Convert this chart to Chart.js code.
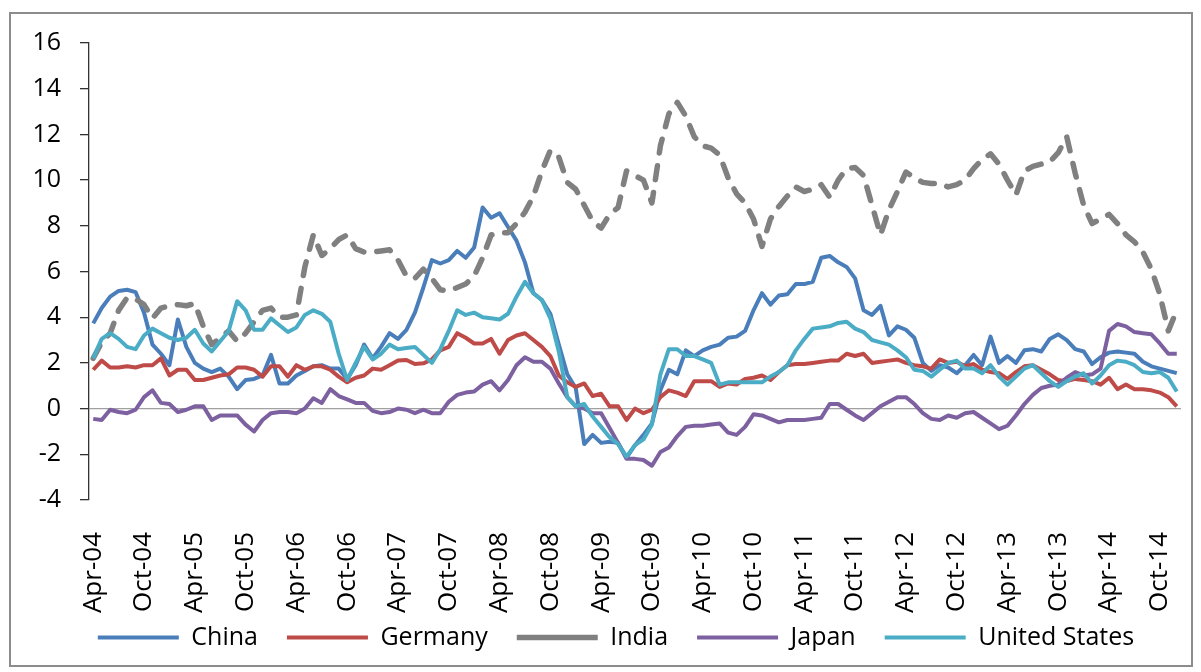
<!DOCTYPE html>
<html><head><meta charset="utf-8">
<script src="https://cdn.jsdelivr.net/npm/chart.js@4.4.1/dist/chart.umd.min.js"></script>
<style>
html,body{margin:0;padding:0;background:#fff;}
#wrap{position:relative;width:1201px;height:672px;overflow:hidden;}
#frame{position:absolute;left:9px;top:12px;width:1184px;height:655px;border:2px solid #8c8c8c;box-sizing:border-box;}
canvas{position:absolute;left:0;top:0;}
</style></head><body>
<div id="wrap"><div id="frame"></div><canvas id="c" width="1201" height="672"></canvas></div>
<script>
// Categories: monthly, Apr-04 .. Dec-14
const monthNames = ['Jan','Feb','Mar','Apr','May','Jun','Jul','Aug','Sep','Oct','Nov','Dec'];
const years = ['04','05','06','07','08','09','10','11','12','13','14'];
const months = [];
years.forEach((y, yi) => monthNames.forEach((m, mi) => { if (!(yi === 0 && mi < 3)) months.push(m + '-' + y); }));

const tickLabels = ['Apr-04','Oct-04','Apr-05','Oct-05','Apr-06','Oct-06','Apr-07','Oct-07','Apr-08','Oct-08','Apr-09','Oct-09','Apr-10','Oct-10','Apr-11','Oct-11','Apr-12','Oct-12','Apr-13','Oct-13','Apr-14','Oct-14'];
const yTicks = [-4,-2,0,2,4,6,8,10,12,14,16];

const china = [3.73,4.4,4.9,5.15,5.2,5.1,4.2,2.8,2.4,1.9,3.9,2.7,2.0,1.75,1.6,1.75,1.4,0.85,1.25,1.3,1.45,2.35,1.1,1.1,1.45,1.65,1.85,1.9,1.75,1.75,1.3,1.9,2.8,2.2,2.7,3.3,3.05,3.45,4.2,5.3,6.5,6.35,6.5,6.9,6.6,7.05,8.8,8.35,8.55,7.95,7.35,6.4,5.05,4.75,4.15,2.8,1.5,0.9,-1.55,-1.15,-1.5,-1.45,-1.5,-2.15,-1.6,-1.15,-0.65,0.8,1.7,1.5,2.55,2.3,2.55,2.7,2.8,3.1,3.15,3.4,4.3,5.05,4.55,4.95,5.0,5.45,5.45,5.55,6.6,6.68,6.4,6.2,5.7,4.3,4.1,4.5,3.2,3.6,3.45,3.1,2.0,1.65,1.9,1.8,1.55,1.9,2.35,1.9,3.15,2.0,2.3,2.0,2.55,2.6,2.5,3.05,3.25,3.0,2.6,2.5,1.95,2.25,2.45,2.5,2.45,2.4,2.05,1.85,1.75,1.65,1.55];
const germany = [1.7,2.1,1.8,1.8,1.85,1.8,1.9,1.9,2.2,1.45,1.7,1.7,1.25,1.25,1.35,1.45,1.5,1.8,1.8,1.7,1.4,1.85,1.85,1.4,1.9,1.7,1.85,1.85,1.7,1.4,1.15,1.35,1.45,1.75,1.7,1.9,2.1,2.13,1.95,1.98,2.15,2.55,2.7,3.3,3.1,2.85,2.85,3.05,2.4,3.0,3.2,3.3,3.0,2.7,2.3,1.45,1.15,0.95,1.1,0.55,0.65,0.1,0.1,-0.5,0.0,-0.2,-0.05,0.5,0.8,0.7,0.55,1.2,1.2,1.2,0.95,1.1,1.05,1.3,1.35,1.45,1.25,1.6,1.9,1.95,1.95,2.0,2.05,2.1,2.1,2.4,2.3,2.4,2.0,2.05,2.1,2.15,2.0,1.9,1.85,1.75,2.15,2.0,2.05,1.85,1.95,1.7,1.6,1.55,1.3,1.6,1.85,1.9,1.7,1.5,1.25,1.2,1.3,1.25,1.2,1.05,1.35,0.85,1.05,0.85,0.85,0.8,0.7,0.5,0.1];
const india = [2.2,2.9,3.3,4.3,4.85,4.8,4.55,3.95,4.4,4.5,4.55,4.5,4.6,3.6,2.8,3.1,3.4,2.95,3.3,3.8,4.3,4.4,4.0,4.0,4.1,6.2,7.6,6.7,7.0,7.4,7.6,7.0,6.85,6.85,6.9,6.95,6.5,5.8,5.7,6.1,5.7,5.2,5.15,5.3,5.45,5.8,6.6,7.6,7.7,7.7,8.1,8.6,9.3,10.4,11.3,11.0,9.9,9.6,8.9,8.2,7.9,8.5,8.8,10.4,10.2,10.0,9.0,11.5,12.9,13.4,12.8,11.9,11.5,11.4,11.1,10.1,9.4,9.0,8.3,7.1,8.3,8.85,9.3,9.7,9.5,9.6,9.8,9.25,10.0,10.5,10.55,10.2,8.9,7.6,8.7,9.5,10.35,10.1,9.9,9.85,9.85,9.7,9.8,10.0,10.5,10.9,11.15,10.7,10.0,9.35,10.4,10.6,10.7,10.8,11.2,11.9,10.3,8.9,8.1,8.3,8.5,8.1,7.6,7.3,6.85,6.1,5.0,3.4,4.3];
const japan = [-0.45,-0.5,-0.05,-0.15,-0.2,-0.05,0.5,0.8,0.25,0.2,-0.15,-0.05,0.1,0.1,-0.5,-0.3,-0.3,-0.3,-0.7,-1.0,-0.5,-0.2,-0.15,-0.15,-0.2,0.0,0.45,0.25,0.85,0.55,0.4,0.25,0.25,-0.1,-0.2,-0.15,0.0,-0.05,-0.2,-0.05,-0.2,-0.2,0.3,0.6,0.7,0.75,1.05,1.2,0.8,1.25,1.9,2.25,2.05,2.05,1.75,1.1,0.5,0.1,0.0,-0.2,-0.2,-0.85,-1.5,-2.2,-2.2,-2.25,-2.5,-1.9,-1.7,-1.2,-0.8,-0.75,-0.75,-0.7,-0.65,-1.05,-1.15,-0.8,-0.25,-0.3,-0.45,-0.6,-0.5,-0.5,-0.5,-0.45,-0.4,0.2,0.2,-0.05,-0.3,-0.5,-0.2,0.1,0.3,0.5,0.5,0.2,-0.2,-0.45,-0.5,-0.3,-0.4,-0.2,-0.15,-0.4,-0.65,-0.9,-0.75,-0.3,0.2,0.6,0.9,1.0,1.05,1.35,1.6,1.45,1.5,1.75,3.4,3.7,3.6,3.35,3.3,3.25,2.85,2.4,2.4];
const unitedStates = [2.2,3.05,3.3,3.05,2.7,2.6,3.2,3.5,3.3,3.1,3.0,3.1,3.45,2.85,2.5,2.95,3.4,4.7,4.3,3.45,3.45,3.95,3.65,3.35,3.55,4.1,4.3,4.15,3.8,2.4,1.25,2.0,2.7,2.15,2.4,2.8,2.6,2.65,2.7,2.35,2.0,2.6,3.4,4.3,4.1,4.2,4.0,3.95,3.9,4.15,4.9,5.55,5.05,4.75,3.95,2.5,0.5,0.1,0.2,-0.35,-0.8,-1.25,-1.55,-2.1,-1.6,-1.35,-0.7,1.5,2.6,2.6,2.3,2.3,2.15,2.0,1.05,1.15,1.15,1.15,1.15,1.15,1.4,1.6,1.9,2.55,3.05,3.5,3.55,3.6,3.75,3.8,3.5,3.35,3.0,2.9,2.8,2.55,2.25,1.7,1.65,1.4,1.7,2.0,2.1,1.75,1.75,1.55,1.9,1.4,1.05,1.4,1.75,1.9,1.55,1.2,0.95,1.2,1.4,1.55,1.1,1.45,1.9,2.1,2.05,1.9,1.6,1.55,1.6,1.35,0.75];

const FONT = 'Open Sans';
const ctx = document.getElementById('c').getContext('2d');

const mk = (label, data, color, width, order, dash) => ({
  label, data, borderColor: color, backgroundColor: color, borderWidth: width,
  pointRadius: 0, tension: 0, fill: false, order,
  borderDash: dash || [], borderCapStyle: dash ? 'round' : 'butt', borderJoinStyle: 'round'
});

// keeps rotated category labels from being clipped and centres the legend like the original
const layoutTweak = {
  id: 'layoutTweak',
  afterLayout(chart) {
    chart.scales.x.bottom = chart.height;
    const lg = chart.legend;
    if (lg) { lg.left = 31; lg.right = chart.width; }
  }
};

new Chart(ctx, {
  type: 'line',
  data: {
    labels: months,
    datasets: [
      mk('China', china, '#4a7ebb', 4, 5),
      mk('Germany', germany, '#be4b48', 4, 4),
      mk('India', india, '#808080', 5.5, 3, [14, 13]),
      mk('Japan', japan, '#7d60a0', 4, 2),
      mk('United States', unitedStates, '#4bacc6', 4, 1)
    ]
  },
  plugins: [layoutTweak],
  options: {
    responsive: false,
    animation: false,
    layout: { padding: { left: 10, right: 20, top: 43, bottom: 12 } },
    scales: {
      x: {
        type: 'category', offset: true,
        grid: { display: false, drawTicks: false },
        border: { display: false },
        ticks: {
          autoSkip: false, minRotation: 90, maxRotation: 90, padding: 32, color: '#000',
          font: { family: FONT, size: 26 },
          callback: (v, i) => tickLabels.includes(months[i]) ? months[i] : ''
        },
        afterFit: s => { s.height = 96; s.paddingLeft = 0; s.paddingRight = 0; }
      },
      y: {
        min: yTicks[0], max: yTicks[yTicks.length - 1],
        afterBuildTicks: s => { s.ticks = yTicks.map(v => ({ value: v })); },
        ticks: { padding: 19, color: '#000', font: { family: FONT, size: 25 } },
        grid: {
          drawOnChartArea: true, tickLength: 9, lineWidth: 1.3,
          color: c => (c.tick && c.tick.value === 0) ? '#a0a0a0' : 'rgba(0,0,0,0)',
          tickColor: '#333'
        },
        border: { display: true, color: '#333', width: 1.3 },
        afterFit: s => { s.width = 79; }
      }
    },
    plugins: {
      tooltip: { enabled: false },
      legend: {
        position: 'bottom',
        labels: {
          usePointStyle: true, pointStyle: 'line', pointStyleWidth: 81,
          padding: 29, color: '#000', font: { family: FONT, size: 25 },
          sort: (a, b) => a.datasetIndex - b.datasetIndex
        }
      }
    }
  }
});
</script></body></html>
